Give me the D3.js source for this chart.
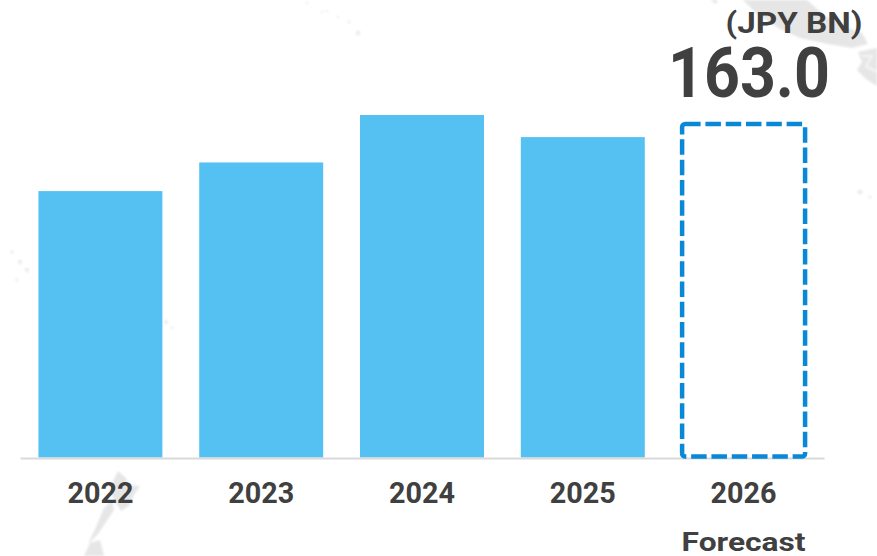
<!DOCTYPE html>
<html>
<head>
<meta charset="utf-8">
<script src="https://cdn.jsdelivr.net/npm/d3@7"></script>
<style>
html,body{margin:0;padding:0;background:#fff;}
svg{display:block;}
text{font-family:Roboto,"Noto Sans",sans-serif;font-weight:700;fill:#404040;}
</style>
</head>
<body>
<svg id="chart" width="877" height="556"></svg>
<script>
// Annual values in JPY billions; the last year is a forecast.
const years = ["2022", "2023", "2024", "2025", "2026"];
const actuals = [130.2, 144.2, 167.4, 156.6, null];
const forecasts = [null, null, null, null, 163.0];
const forecastNote = "Forecast";
const unitLabel = "(JPY BN)";

const svg = d3.select("#chart");
const x = d3.scaleBand().domain(years).range([20, 824]).paddingInner(0.229).paddingOuter(0.1145);
const y = d3.scaleLinear().domain([0, 163]).range([457.5, 124]);

// Soft edge for the map backdrop.
svg.append("defs").append("filter").attr("id", "soft")
  .append("feGaussianBlur").attr("stdDeviation", 1);

// Faint world-map backdrop: only the land outlines that fall inside the frame.
const land = [
  "M743,0 L807,0 L825,16 L845,27 L862,33 L868,44 L852,48 L828,44 L800,38 L778,28 L757,14 Z",
  "M710,0 L718,0 L716,4 Z",
  "M858,52 L877,48 L877,86 L866,79 L857,70 L862,62 Z",
  "M118,471 L126,478 L128,485 L140,486 L134,495 L129,506 L121,511 L116,503 L110,492 L113,481 Z",
  "M112,500 L114,510 L106,522 L98,534 L88,544 L96,527 L104,508 Z",
  "M90,543 L100,540 L104,556 L84,556 Z"
];
const specks = [
  [307, 3, 1.2], [322, 12, 1.2], [327, 11, 1.2], [338, 17, 1.2], [349, 22, 1.4], [358, 33, 2.4],
  [12, 252, 1.8], [20, 262, 2.2], [27, 270, 2.2], [17, 280, 1.4], [166, 322, 2], [172, 328, 1.4],
  [860, 192, 2.5], [870, 197, 1.6]
];
const backdrop = svg.append("g").attr("filter", "url(#soft)");
backdrop.selectAll("path.land").data(land).join("path").attr("class", "land")
  .attr("d", d => d).attr("fill", "#e6e6e6");
backdrop.append("path").attr("d", "M862,56 L872,56 L866,66 L877,72")
  .attr("fill", "none").attr("stroke", "#f6f6f6").attr("stroke-width", 2);
backdrop.selectAll("circle").data(specks).join("circle")
  .attr("cx", d => d[0]).attr("cy", d => d[1]).attr("r", d => d[2]).attr("fill", "#ececec");

// Solid bars for reported years.
svg.append("g").selectAll("rect")
  .data(years.map((year, i) => ({year, value: actuals[i]})).filter(d => d.value !== null))
  .join("rect")
  .attr("x", d => x(d.year))
  .attr("y", d => y(d.value))
  .attr("width", x.bandwidth())
  .attr("height", d => y(0) - y(d.value))
  .attr("fill", "#55c1f2");

// Baseline with year labels below it.
const axis = svg.append("g").attr("transform", `translate(0,${y(0) + 0.5})`)
  .call(d3.axisBottom(x).tickSize(0).tickPadding(24));
axis.attr("font-family", null).attr("font-size", null);
axis.select(".domain").attr("stroke", "#d9d9d9").attr("stroke-width", 2);
axis.selectAll(".tick text").attr("font-size", 30)
  .attr("textLength", 66).attr("lengthAdjust", "spacingAndGlyphs");

// Dashed outline for the forecast year.
svg.append("g").selectAll("rect")
  .data(years.map((year, i) => ({year, value: forecasts[i]})).filter(d => d.value !== null))
  .join("rect")
  .attr("x", d => x(d.year) + 0.5)
  .attr("y", d => y(d.value))
  .attr("width", x.bandwidth() - 1)
  .attr("height", d => y(0) - y(d.value) - 1)
  .attr("rx", 3)
  .attr("fill", "none")
  .attr("stroke", "#0a88d8")
  .attr("stroke-width", 4.5)
  .attr("stroke-dasharray", "15.5 4.8");

// Forecast caption, value label and unit.
const last = years[years.length - 1];
const lastCx = x(last) + x.bandwidth() / 2;
svg.append("text").attr("x", lastCx).attr("y", 550.5).attr("text-anchor", "middle")
  .attr("font-size", 25).attr("textLength", 124).attr("lengthAdjust", "spacingAndGlyphs")
  .text(forecastNote);
svg.append("text").attr("x", 749).attr("y", 96.5).attr("text-anchor", "middle")
  .attr("font-size", 70).attr("textLength", 162).attr("lengthAdjust", "spacingAndGlyphs")
  .text(forecasts[4].toFixed(1));
svg.append("text").attr("x", 794).attr("y", 33).attr("text-anchor", "middle")
  .attr("font-size", 30).attr("textLength", 137).attr("lengthAdjust", "spacingAndGlyphs")
  .text(unitLabel);
</script>
</body>
</html>
